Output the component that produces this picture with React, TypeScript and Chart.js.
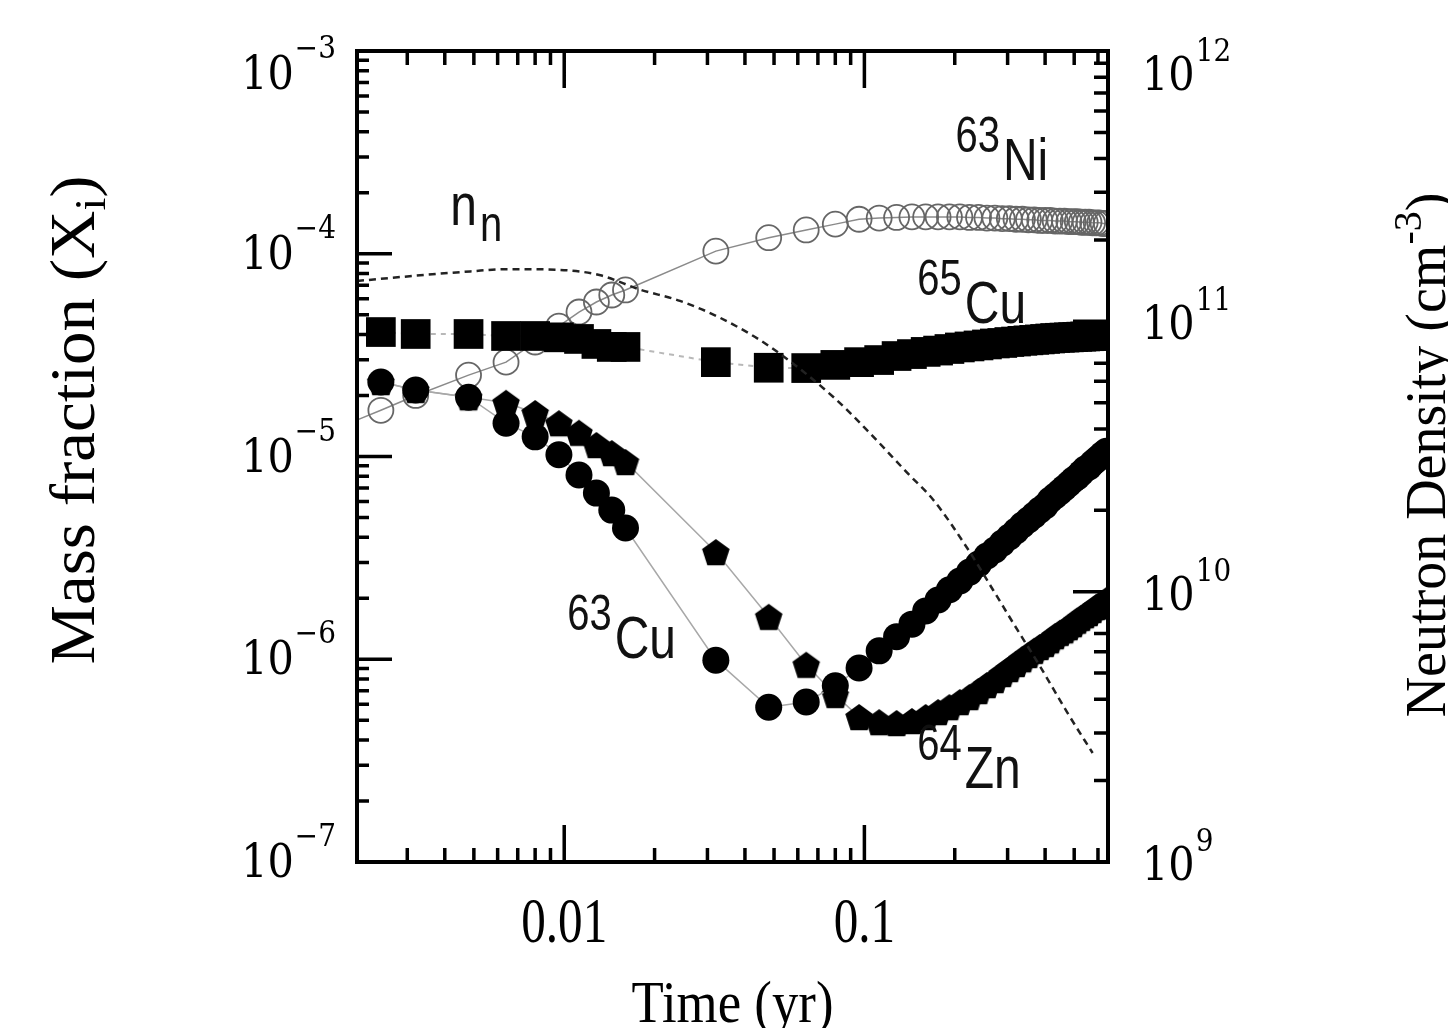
import React, { useEffect, useRef } from 'react';
import { Chart, registerables } from 'chart.js';

Chart.register(...registerables);

// ---------- data ----------
// simulation output times (yr)
const timeYr = [
  0.0016, 0.00245, 0.0032, 0.0048, 0.0064, 0.008, 0.0096, 0.0112, 0.0128, 0.0144, 0.016,
  0.032, 0.048, 0.064, 0.08, 0.096,
  0.112, 0.128, 0.144, 0.16, 0.176, 0.192, 0.208, 0.224, 0.24, 0.256,
  0.272, 0.288, 0.304, 0.32, 0.336, 0.352, 0.368, 0.384, 0.4, 0.416,
  0.432, 0.448, 0.464, 0.48, 0.496, 0.512, 0.528, 0.544, 0.56, 0.576,
  0.592, 0.608, 0.624, 0.64,
];

// 63Ni mass fraction (open circles)
const ni63 = [
  1.31e-5, 1.69e-5, 2.0e-5, 2.52e-5, 2.92e-5, 3.67e-5, 4.4e-5, 5.16e-5, 5.78e-5, 6.26e-5, 6.63e-5,
  1.03e-4, 1.2e-4, 1.31e-4, 1.4e-4, 1.48e-4,
  1.5e-4, 1.51e-4, 1.52e-4, 1.52e-4, 1.52e-4, 1.52e-4, 1.52e-4, 1.51e-4, 1.51e-4, 1.5e-4,
  1.5e-4, 1.49e-4, 1.49e-4, 1.48e-4, 1.48e-4, 1.47e-4, 1.47e-4, 1.46e-4, 1.46e-4, 1.46e-4,
  1.45e-4, 1.45e-4, 1.45e-4, 1.44e-4, 1.44e-4, 1.44e-4, 1.43e-4, 1.43e-4, 1.43e-4, 1.42e-4,
  1.42e-4, 1.42e-4, 1.41e-4, 1.41e-4,
];

// 65Cu mass fraction (filled squares)
const cu65 = [
  null, 4.11e-5, 4.02e-5, 4.02e-5, 3.93e-5, 3.93e-5, 3.87e-5, 3.8e-5, 3.59e-5, 3.47e-5, 3.47e-5,
  2.92e-5, 2.74e-5, 2.73e-5, 2.83e-5, 2.92e-5,
  2.99e-5, 3.13e-5, 3.2e-5, 3.28e-5, 3.33e-5, 3.39e-5, 3.45e-5, 3.49e-5, 3.53e-5, 3.57e-5,
  3.61e-5, 3.63e-5, 3.67e-5, 3.69e-5, 3.72e-5, 3.74e-5, 3.76e-5, 3.78e-5, 3.8e-5, 3.82e-5,
  3.84e-5, 3.85e-5, 3.86e-5, 3.87e-5, 3.88e-5, 3.89e-5, 3.9e-5, 3.91e-5, 3.92e-5, 3.93e-5,
  3.94e-5, 3.94e-5, 3.95e-5, 3.96e-5,
];

// 63Cu mass fraction (filled circles)
const cu63 = [
  null, 2.33e-5, 2.13e-5, 1.96e-5, 1.46e-5, 1.25e-5, 1.02e-5, 8.1e-6, 6.6e-6, 5.44e-6, 4.44e-6,
  9.9e-7, 5.8e-7, 6.15e-7, 7.4e-7, 9.06e-7,
  1.1e-6, 1.29e-6, 1.49e-6, 1.73e-6, 1.96e-6, 2.2e-6, 2.43e-6, 2.69e-6, 2.95e-6, 3.23e-6,
  3.46e-6, 3.74e-6, 4.01e-6, 4.29e-6, 4.59e-6, 4.86e-6, 5.14e-6, 5.44e-6, 5.7e-6, 6.1e-6,
  6.38e-6, 6.68e-6, 7.0e-6, 7.32e-6, 7.66e-6, 7.93e-6, 8.3e-6, 8.68e-6, 8.88e-6, 9.29e-6,
  9.61e-6, 9.94e-6, 1.03e-5, 1.06e-5,
];

// 64Zn mass fraction (filled pentagons)
const zn64 = [
  null, 2.33e-5, 2.13e-5, 1.96e-5, 1.84e-5, 1.64e-5, 1.46e-5, 1.31e-5, 1.14e-5, 1.04e-5, 9.4e-6,
  3.38e-6, 1.62e-6, 9.4e-7, 6.67e-7, 5.19e-7,
  4.9e-7, 4.85e-7, 4.96e-7, 5.19e-7, 5.49e-7, 5.81e-7, 6.15e-7, 6.51e-7, 6.97e-7, 7.46e-7,
  7.9e-7, 8.46e-7, 8.95e-7, 9.48e-7, 1.0e-6, 1.05e-6, 1.1e-6, 1.15e-6, 1.19e-6, 1.24e-6,
  1.3e-6, 1.35e-6, 1.39e-6, 1.44e-6, 1.49e-6, 1.55e-6, 1.6e-6, 1.65e-6, 1.69e-6, 1.75e-6,
  1.81e-6, 1.85e-6, 1.89e-6, 1.96e-6,
];

// neutron density n_n (cm^-3), right axis, dashed curve
const nnTime = [
  0.00204, 0.00331, 0.00486, 0.00646, 0.0097, 0.0132, 0.0179, 0.0243, 0.0331, 0.0486,
  0.0788, 0.102, 0.139, 0.17, 0.22, 0.269, 0.313, 0.386, 0.475, 0.576,
];
const nnDensity = [
  1.41e11, 1.48e11, 1.53e11, 1.56e11, 1.55e11, 1.48e11, 1.31e11, 1.19e11, 1.03e11, 8.04e10,
  5.25e10, 3.96e10, 2.75e10, 2.18e10, 1.45e10, 1.01e10, 7.66e9, 5.26e9, 3.56e9, 2.53e9,
];

// tick labels
const massTicks = [1e-7, 1e-6, 1e-5, 1e-4, 1e-3];
const massTickExp = ['\u22127', '\u22126', '\u22125', '\u22124', '\u22123'];
const densityTicks = [1e9, 1e10, 1e11, 1e12];
const densityTickExp = ['9', '10', '11', '12'];
const timeTicks = [0.01, 0.1];
const timeTickLabels = ['0.01', '0.1'];

// isotope annotations, anchored in data coordinates (time, mass fraction)
const isoLabelSup = ['63', '65', '63', '64'];
const isoLabelEl = ['Ni', 'Cu', 'Cu', 'Zn'];
const isoLabelTime = [0.201, 0.15, 0.01023, 0.15];
const isoLabelMass = [2.31e-4, 4.55e-5, 1.01e-6, 2.32e-7];
const nnLabelTime = 0.00417;
const nnLabelMass = 1.39e-4;

const X_MIN = 0.00204;
const X_MAX = 0.648;

const SANS = '"Liberation Sans", Arial, sans-serif';
const SERIF = '"Liberation Serif", "Times New Roman", serif';
const TICKF = '"DejaVu Serif", serif';

function makePentagon(): HTMLCanvasElement {
  const c = document.createElement('canvas');
  c.width = 30;
  c.height = 30;
  const g = c.getContext('2d')!;
  g.beginPath();
  for (let k = 0; k < 5; k++) {
    const a = -Math.PI / 2 + (k * 2 * Math.PI) / 5;
    const px = 15 + 14.5 * Math.cos(a);
    const py = 16.5 + 14.5 * Math.sin(a);
    if (k === 0) g.moveTo(px, py);
    else g.lineTo(px, py);
  }
  g.closePath();
  g.fillStyle = '#000';
  g.fill();
  return c;
}

function textW(ctx: CanvasRenderingContext2D, s: string, font: string, sx: number) {
  ctx.save();
  ctx.font = font;
  const w = ctx.measureText(s).width * sx;
  ctx.restore();
  return w;
}

function drawH(ctx: CanvasRenderingContext2D, s: string, x: number, y: number, font: string, sx: number, align: CanvasTextAlign = 'left') {
  ctx.save();
  ctx.font = font;
  ctx.translate(x, y);
  ctx.scale(sx, 1);
  ctx.textAlign = align;
  ctx.textBaseline = 'alphabetic';
  ctx.fillText(s, 0, 0);
  ctx.restore();
}

function logTicks(min: number, max: number) {
  const out: { v: number; major: boolean }[] = [];
  const e0 = Math.floor(Math.log10(min)) - 1;
  const e1 = Math.ceil(Math.log10(max)) + 1;
  for (let e = e0; e <= e1; e++) {
    for (let m = 1; m <= 9; m++) {
      const v = m * Math.pow(10, e);
      if (v >= min * (1 - 1e-9) && v <= max * (1 + 1e-9)) out.push({ v, major: m === 1 });
    }
  }
  return out;
}

const decorPlugin = {
  id: 'decor',
  afterDraw(chart: any) {
    const ctx: CanvasRenderingContext2D = chart.ctx;
    const { left, right, top, bottom } = chart.chartArea;
    const xs = chart.scales.x;
    const ys = chart.scales.y;
    const y1 = chart.scales.y1;
    ctx.save();
    ctx.fillStyle = '#000';
    ctx.strokeStyle = '#000';

    // ticks (inward)
    ctx.lineWidth = 3.5;
    ctx.lineCap = 'butt';
    ctx.beginPath();
    for (const t of logTicks(xs.min, xs.max)) {
      const px = xs.getPixelForValue(t.v);
      const len = t.major ? 37 : 14;
      ctx.moveTo(px, bottom);
      ctx.lineTo(px, bottom - len);
      ctx.moveTo(px, top);
      ctx.lineTo(px, top + len);
    }
    for (const t of logTicks(ys.min, ys.max)) {
      const py = ys.getPixelForValue(t.v);
      const len = t.major ? 35 : 12;
      ctx.moveTo(left, py);
      ctx.lineTo(left + len, py);
    }
    for (const t of logTicks(y1.min, y1.max)) {
      const py = y1.getPixelForValue(t.v);
      const len = t.major ? 35 : 14;
      ctx.moveTo(right, py);
      ctx.lineTo(right - len, py);
    }
    ctx.stroke();

    // frame
    ctx.lineWidth = 4;
    ctx.strokeRect(left, top, right - left, bottom - top);

    // left tick labels 10^-n
    const f10 = `46px ${TICKF}`;
    const fSup = `31px ${TICKF}`;
    const sxT = 0.9;
    massTicks.forEach((v, i) => {
      const py = ys.getPixelForValue(v);
      const base = Math.max(py + 15, top + 38);
      const wS = textW(ctx, massTickExp[i], fSup, sxT);
      const w10 = textW(ctx, '10', f10, sxT);
      const xr = left - 21;
      drawH(ctx, massTickExp[i], xr - wS, base - 31, fSup, sxT);
      drawH(ctx, '10', xr - wS - w10 - 1, base, f10, sxT);
    });
    // right tick labels
    densityTicks.forEach((v, i) => {
      const py = y1.getPixelForValue(v);
      const base = Math.max(py + 18, top + 39);
      const xl = right + 34;
      const w10 = textW(ctx, '10', f10, sxT);
      drawH(ctx, '10', xl, base, f10, sxT);
      drawH(ctx, densityTickExp[i], xl + w10 + 1, base - 29, fSup, sxT);
    });
    // x tick labels
    timeTicks.forEach((v, i) => {
      const px = xs.getPixelForValue(v);
      drawH(ctx, timeTickLabels[i], px, bottom + 80, `63px ${SERIF}`, 0.78, 'center');
    });

    // x title
    drawH(ctx, 'Time (yr)', (left + right) / 2, 1014, `60px ${SERIF}`, 0.88, 'center');

    // left title (rotated)
    {
      const fMain = `67px ${SERIF}`;
      const fSub = `46px ${SERIF}`;
      const p1 = 'Mass fraction (X';
      const w1 = textW(ctx, p1, fMain, 1);
      const w2 = textW(ctx, 'i', fSub, 1);
      const w3 = textW(ctx, ')', fMain, 1);
      const total = w1 + w2 + w3;
      ctx.save();
      ctx.translate(86, 412);
      ctx.scale(0.95, 1);
      ctx.rotate(-Math.PI / 2);
      ctx.textBaseline = 'alphabetic';
      let x0 = -total / 2;
      ctx.font = fMain;
      ctx.fillText(p1, x0, 0);
      x0 += w1;
      ctx.font = fSub;
      ctx.fillText('i', x0, 12);
      x0 += w2;
      ctx.font = fMain;
      ctx.fillText(')', x0, 0);
      ctx.restore();
    }
    // right title (rotated)
    {
      const fMain = `56px ${SERIF}`;
      const fSup = `40px ${SERIF}`;
      const p1 = 'Neutron Density (cm';
      const w1 = textW(ctx, p1, fMain, 1);
      const w2 = textW(ctx, '-3', fSup, 1);
      const w3 = textW(ctx, ')', fMain, 1);
      const total = w1 + w2 + w3;
      ctx.save();
      ctx.translate(1437, 447);
      ctx.rotate(-Math.PI / 2);
      ctx.textBaseline = 'alphabetic';
      let x0 = -total / 2;
      ctx.font = fMain;
      ctx.fillText(p1, x0, 0);
      x0 += w1;
      ctx.font = fSup;
      ctx.fillText('-3', x0, -24);
      x0 += w2;
      ctx.font = fMain;
      ctx.fillText(')', x0, 0);
      ctx.restore();
    }

    // isotope labels
    ctx.fillStyle = '#111';
    const fIsoSup = `50px ${SANS}`;
    const fIso = `60px ${SANS}`;
    isoLabelSup.forEach((sup, i) => {
      const ax = xs.getPixelForValue(isoLabelTime[i]);
      const ay = ys.getPixelForValue(isoLabelMass[i]);
      drawH(ctx, sup, ax, ay - 28, fIsoSup, 0.8);
      const ws = textW(ctx, sup, fIsoSup, 0.8);
      drawH(ctx, isoLabelEl[i], ax + ws + 3, ay, fIso, 0.8);
    });
    // n_n label
    {
      const ax = xs.getPixelForValue(nnLabelTime);
      const ay = ys.getPixelForValue(nnLabelMass);
      drawH(ctx, 'n', ax, ay, fIso, 0.8);
      const wn = textW(ctx, 'n', fIso, 0.8);
      drawH(ctx, 'n', ax + wn + 3, ay + 16, fIsoSup, 0.8);
    }
    ctx.restore();
  },
};

export default function App() {
  const ref = useRef<HTMLCanvasElement>(null);
  useEffect(() => {
    const canvas = ref.current!;
    const pent = makePentagon();
    const pts = (ys: (number | null)[]) => timeYr.map((t, i) => ({ x: t, y: ys[i] }));
    const chart = new Chart(canvas, {
      type: 'line',
      data: {
        datasets: [
          {
            label: 'n_n',
            data: nnTime.map((t, i) => ({ x: t, y: nnDensity[i] })),
            yAxisID: 'y1',
            borderColor: '#222',
            borderWidth: 2.5,
            borderDash: [7, 5],
            pointRadius: 0,
            cubicInterpolationMode: 'monotone',
            fill: false,
            clip: 0,
          },
          {
            label: '65Cu',
            data: pts(cu65),
            yAxisID: 'y',
            borderColor: '#b8b8b8',
            borderWidth: 2,
            borderDash: [5, 5],
            pointStyle: 'rect',
            pointRadius: 21,
            pointBackgroundColor: '#000',
            pointBorderColor: '#000',
            pointBorderWidth: 0,
            fill: false,
            clip: 0,
          },
          {
            label: '63Cu',
            data: pts(cu63),
            yAxisID: 'y',
            borderColor: '#a8a8a8',
            borderWidth: 1.5,
            pointStyle: 'circle',
            pointRadius: 13.5,
            pointBackgroundColor: '#000',
            pointBorderColor: '#000',
            pointBorderWidth: 0,
            fill: false,
            clip: 0,
          },
          {
            label: '64Zn',
            data: pts(zn64),
            yAxisID: 'y',
            borderColor: '#a8a8a8',
            borderWidth: 1.5,
            pointStyle: pent,
            pointRadius: 13,
            pointBackgroundColor: '#000',
            pointBorderWidth: 0,
            fill: false,
            clip: 0,
          },
          {
            label: '63Ni',
            data: pts(ni63),
            yAxisID: 'y',
            borderColor: '#8a8a8a',
            borderWidth: 1.5,
            pointStyle: 'circle',
            pointRadius: 12.5,
            pointBackgroundColor: 'rgba(0,0,0,0)',
            pointBorderColor: '#666',
            pointBorderWidth: 1.8,
            fill: false,
            clip: 0,
          },
        ] as any,
      },
      options: {
        responsive: true,
        maintainAspectRatio: false,
        animation: false,
        devicePixelRatio: 1,
        events: [],
        layout: { padding: { left: 349, top: 43, right: 340, bottom: 174 } },
        plugins: { legend: { display: false }, tooltip: { enabled: false }, title: { display: false } },
        scales: {
          x: { type: 'logarithmic', min: X_MIN, max: X_MAX, display: false },
          y: { type: 'logarithmic', position: 'left', min: massTicks[0], max: massTicks[massTicks.length - 1], display: false },
          y1: { type: 'logarithmic', position: 'right', min: densityTicks[0], max: densityTicks[densityTicks.length - 1], display: false },
        },
      } as any,
      plugins: [decorPlugin],
    });
    return () => chart.destroy();
  }, []);
  return (
    <div style={{ width: 1440, height: 1028, position: 'relative', marginBottom: -8 }}>
      <canvas ref={ref} />
    </div>
  );
}
